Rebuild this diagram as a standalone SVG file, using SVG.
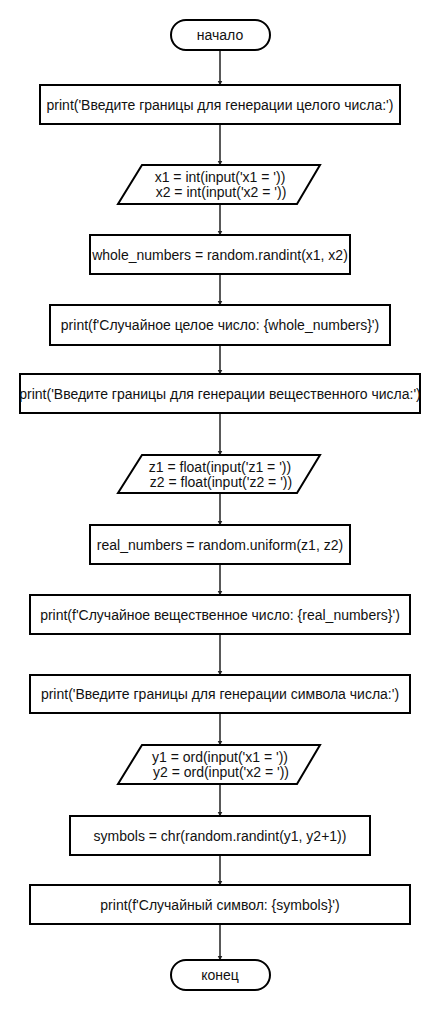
<svg xmlns="http://www.w3.org/2000/svg" width="440" height="1010" viewBox="0 0 440 1010">
<defs>
<marker id="arr" viewBox="0 0 10 10" refX="9" refY="5" markerWidth="5" markerHeight="6" orient="auto" markerUnits="userSpaceOnUse">
<path d="M0,0 L10,5 L0,10 Z" fill="#222"/>
</marker>
<style>
.s{fill:#fff;stroke:#000;stroke-width:2}
.t{font-family:"Liberation Sans",Arial,sans-serif;font-size:14px;fill:#111;text-anchor:middle;dominant-baseline:central}
.c{stroke:#222;stroke-width:1.5;fill:none;marker-end:url(#arr)}
</style>
</defs>
<rect width="440" height="1010" fill="#fff"/>
<g id="connectors">
<line class="c" x1="220" y1="50" x2="220" y2="85"/>
<line class="c" x1="220" y1="124" x2="220" y2="165"/>
<line class="c" x1="220" y1="204" x2="220" y2="235"/>
<line class="c" x1="220" y1="274" x2="220" y2="305"/>
<line class="c" x1="220" y1="345" x2="220" y2="374"/>
<line class="c" x1="220" y1="413" x2="220" y2="455"/>
<line class="c" x1="220" y1="493" x2="220" y2="525"/>
<line class="c" x1="220" y1="564" x2="220" y2="595"/>
<line class="c" x1="220" y1="634" x2="220" y2="675"/>
<line class="c" x1="220" y1="713" x2="220" y2="745"/>
<line class="c" x1="220" y1="784" x2="220" y2="816"/>
<line class="c" x1="220" y1="855" x2="220" y2="885"/>
<line class="c" x1="220" y1="924" x2="220" y2="960"/>
</g>
<g id="start">
<rect class="s" x="171" y="20" width="99" height="30" rx="15"/>
<text class="t" x="220" y="35">начало</text>
</g>
<g id="print1">
<rect class="s" x="40" y="85" width="360" height="39"/>
<text class="t" x="220" y="104.5">print('Введите границы для генерации целого числа:')</text>
</g>
<g id="input1">
<polygon class="s" points="142,165 320,165 297,204 118,204"/>
<text class="t" x="220" y="177">x1 = int(input('x1 = '))</text>
<text class="t" x="221" y="192">x2 = int(input('x2 = '))</text>
</g>
<g id="whole">
<rect class="s" x="90" y="235" width="260" height="39"/>
<text class="t" x="220" y="254.5">whole_numbers = random.randint(x1, x2)</text>
</g>
<g id="print2">
<rect class="s" x="50" y="305" width="340" height="40"/>
<text class="t" x="220" y="325">print(f'Случайное целое число: {whole_numbers}')</text>
</g>
<g id="print3">
<rect class="s" x="20" y="374" width="400" height="39"/>
<text class="t" x="220" y="393.5">print('Введите границы для генерации вещественного числа:')</text>
</g>
<g id="input2">
<polygon class="s" points="142,455 320,455 297,493 118,493"/>
<text class="t" x="220" y="467">z1 = float(input('z1 = '))</text>
<text class="t" x="221" y="482">z2 = float(input('z2 = '))</text>
</g>
<g id="real">
<rect class="s" x="90" y="525" width="260" height="39"/>
<text class="t" x="220" y="544.5">real_numbers = random.uniform(z1, z2)</text>
</g>
<g id="print4">
<rect class="s" x="30" y="595" width="380" height="39"/>
<text class="t" x="220" y="614.5">print(f'Случайное вещественное число: {real_numbers}')</text>
</g>
<g id="print5">
<rect class="s" x="30" y="675" width="380" height="38"/>
<text class="t" x="220" y="694">print('Введите границы для генерации символа числа:')</text>
</g>
<g id="input3">
<polygon class="s" points="142,745 320,745 297,784 118,784"/>
<text class="t" x="220" y="757">y1 = ord(input('x1 = '))</text>
<text class="t" x="221" y="772">y2 = ord(input('x2 = '))</text>
</g>
<g id="symbols">
<rect class="s" x="70" y="816" width="300" height="39"/>
<text class="t" x="220" y="835.5">symbols = chr(random.randint(y1, y2+1))</text>
</g>
<g id="print6">
<rect class="s" x="30" y="885" width="380" height="39"/>
<text class="t" x="220" y="904.5">print(f'Случайный символ: {symbols}')</text>
</g>
<g id="end">
<rect class="s" x="171" y="960" width="99" height="30" rx="15"/>
<text class="t" x="220" y="975">конец</text>
</g>
</svg>
